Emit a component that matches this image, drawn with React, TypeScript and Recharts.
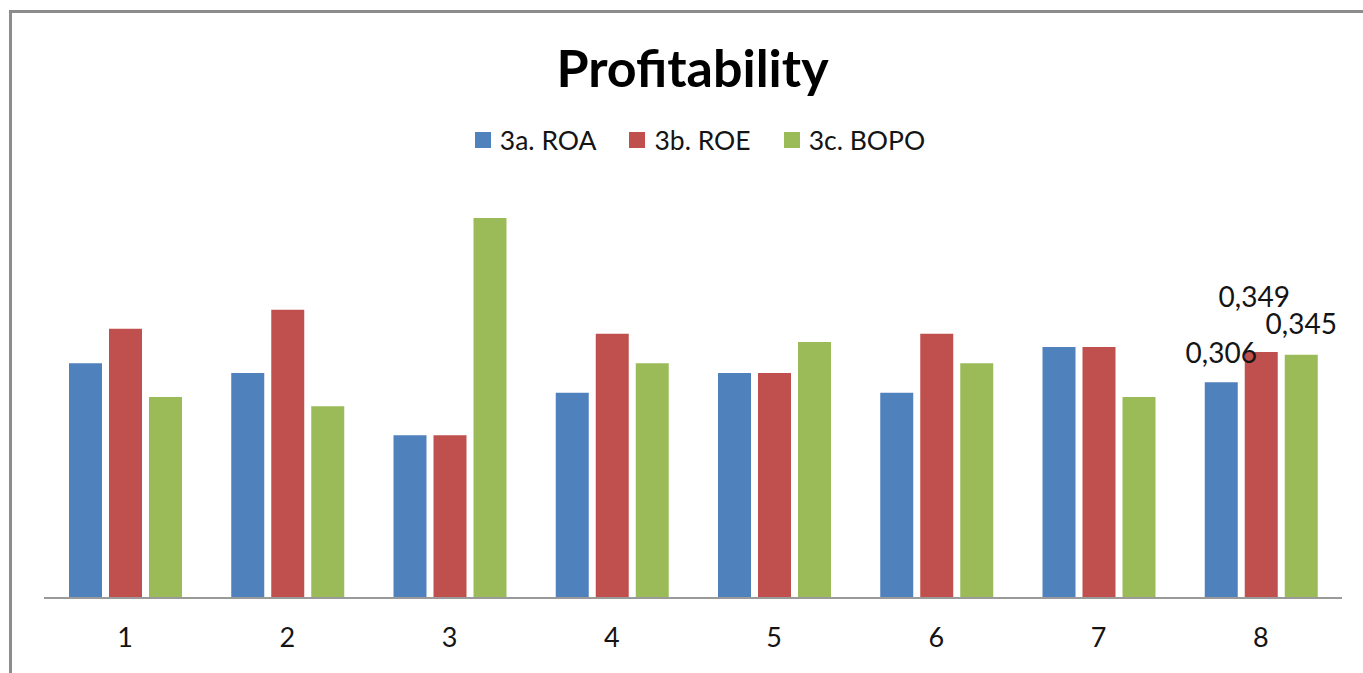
import React from 'react';
import { BarChart, Bar, XAxis, YAxis, LabelList } from 'recharts';

const categories = ['1', '2', '3', '4', '5', '6', '7', '8'];
const roaValues = [0.333, 0.319, 0.231, 0.291, 0.319, 0.291, 0.356, 0.306];
const roeValues = [0.382, 0.409, 0.231, 0.375, 0.319, 0.375, 0.356, 0.349];
const bopoValues = [0.285, 0.272, 0.539, 0.333, 0.363, 0.333, 0.285, 0.345];
const seriesKeys = ['roa', 'roe', 'bopo'];
const seriesNames = ['3a. ROA', '3b. ROE', '3c. BOPO'];
const seriesColors = ['#4F81BD', '#C0504D', '#9BBB59'];
const labelledCategory = '8';
const chartTitle = 'Profitability';

const data = categories.map((c, i) => ({
  category: c,
  roa: roaValues[i],
  roe: roeValues[i],
  bopo: bopoValues[i],
}));

const FONT = 'Lato, "Open Sans", sans-serif';
const TEXT = '#141414';

const labelOffsets: Record<string, { dx: number; dy: number }> = {
  roa: { dx: 0, dy: -19 },
  roe: { dx: -7, dy: -44.5 },
  bopo: { dx: 0, dy: -20.5 },
};

const makeLabel = (key: string) => (props: any) => {
  const { x, y, width, value, index } = props;
  if (categories[index] !== labelledCategory) return null;
  const o = labelOffsets[key];
  return (
    <text
      x={Number(x) + Number(width) / 2 + o.dx}
      y={Number(y) + o.dy}
      textAnchor="middle"
      fontFamily={FONT}
      fontSize={28}
      fill={TEXT}
    >
      {Number(value).toFixed(3).replace('.', ',')}
    </text>
  );
};

export default function App() {
  return (
    <div style={{ position: 'absolute', left: 0, top: 0, width: 1363, height: 673, background: '#fff', overflow: 'hidden' }}>
      <div
        style={{
          position: 'absolute',
          left: 9,
          top: 10,
          right: -5,
          bottom: -5,
          borderTop: '3px solid #8c8c8c',
          borderLeft: '3px solid #8c8c8c',
        }}
      />
      <div
        style={{
          position: 'absolute',
          left: 0,
          width: 1385,
          top: 37,
          textAlign: 'center',
          fontFamily: FONT,
          fontWeight: 700,
          fontSize: 52,
          lineHeight: '60px',
          color: '#000',
        }}
      >
        {chartTitle}
      </div>
      <div
        style={{
          position: 'absolute',
          left: 37,
          width: 1326,
          top: 127,
          display: 'flex',
          justifyContent: 'center',
          gap: 33,
          fontFamily: FONT,
          fontSize: 26.5,
          lineHeight: '26px',
          color: TEXT,
        }}
      >
        {seriesNames.map((n, i) => (
          <div key={n} style={{ display: 'flex', alignItems: 'center' }}>
            <div style={{ width: 16, height: 16, background: seriesColors[i], marginRight: 9 }} />
            <span>{n}</span>
          </div>
        ))}
      </div>
      <div style={{ position: 'absolute', left: 0, top: 0 }}>
        <BarChart
          width={1363}
          height={673}
          data={data}
          margin={{ top: 175, right: 21, bottom: 0, left: 44 }}
          barGap={7}
          barSize={33}
        >
          <XAxis
            dataKey="category"
            height={75}
            axisLine={{ stroke: '#9a9a9a', strokeWidth: 2 }}
            tickLine={false}
            tickSize={0}
            tickMargin={30}
            tick={{ fontFamily: FONT, fontSize: 27, fill: TEXT }}
          />
          <YAxis hide domain={[0, 0.6]} />
          {seriesKeys.map((k, i) => (
            <Bar key={k} dataKey={k} name={seriesNames[i]} fill={seriesColors[i]} isAnimationActive={false}>
              <LabelList dataKey={k} content={makeLabel(k)} />
            </Bar>
          ))}
        </BarChart>
      </div>
    </div>
  );
}
